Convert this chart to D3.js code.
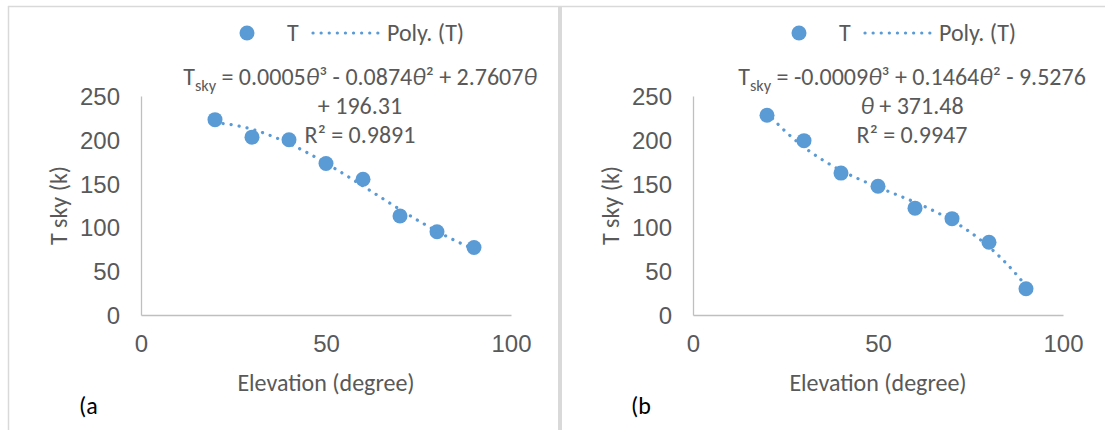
<!DOCTYPE html>
<html>
<head>
<meta charset="utf-8">
<script src="https://cdn.jsdelivr.net/npm/d3@7"></script>
<style>
  body { margin: 0; background: #fff; }
  svg { display: block; font-family: Carlito, Lato, "Open Sans", sans-serif; }
  .tick text { fill: #595959; }
</style>
</head>
<body>
<svg id="chart" width="1105" height="430"></svg>
<script>
// values
const elevation = [20, 30, 40, 50, 60, 70, 80, 90]
const tSkyA = [223, 203, 200, 173, 155, 113, 95, 77]
const tSkyB = [228, 199, 162, 147, 122, 110, 83, 30]
const xTicks = [0, 50, 100]
const yTicks = [0, 50, 100, 150, 200, 250]
const panelTags = ["(a", "(b"]
const eqLine1 = [
  [["T", ""], ["sky", "sub"], [" = 0.0005", ""], ["θ", "it"], ["³ - 0.0874", ""], ["θ", "it"], ["² + 2.7607", ""], ["θ", "it"]],
  [["T", ""], ["sky", "sub"], [" = -0.0009", ""], ["θ", "it"], ["³ + 0.1464", ""], ["θ", "it"], ["² - 9.5276", ""]]
]
const eqLine2 = [
  [["+ 196.31", ""]],
  [["θ", "it"], [" + 371.48", ""]]
]
const rSquared = ["R² = 0.9891", "R² = 0.9947"]

const BLUE = "#5b9bd5"
const GREY_TEXT = "#595959"
const FS = 24

const svg = d3.select("#chart")

// panel frames
svg.append("line").attr("x1", 8).attr("x2", 1105).attr("y1", 6.5).attr("y2", 6.5)
  .attr("stroke", "#d9d9d9").attr("stroke-width", 1.5)
svg.append("line").attr("x1", 8.5).attr("x2", 8.5).attr("y1", 6).attr("y2", 430)
  .attr("stroke", "#d9d9d9").attr("stroke-width", 1.5)
svg.append("rect").attr("x", 558).attr("y", 6).attr("width", 4).attr("height", 424)
  .attr("fill", "#d9d9d9")

// cubic least squares fit (the Excel "Poly." trendline)
function polyFit(xs, ys, order) {
  const n = order + 1
  const A = d3.range(n).map(() => new Array(n + 1).fill(0))
  xs.forEach((x, k) => {
    for (let i = 0; i < n; i++) {
      for (let j = 0; j < n; j++) A[i][j] += Math.pow(x, i + j)
      A[i][n] += Math.pow(x, i) * ys[k]
    }
  })
  for (let c = 0; c < n; c++) {
    let p = c
    for (let r = c + 1; r < n; r++) if (Math.abs(A[r][c]) > Math.abs(A[p][c])) p = r
    ;[A[c], A[p]] = [A[p], A[c]]
    for (let r = 0; r < n; r++) {
      if (r === c) continue
      const f = A[r][c] / A[c][c]
      for (let k = c; k <= n; k++) A[r][k] -= f * A[c][k]
    }
  }
  const coef = A.map((row, i) => row[n] / row[i])
  return x => coef.reduce((s, c, i) => s + c * Math.pow(x, i), 0)
}

function writeRuns(textSel, runs) {
  let shifted = false
  runs.forEach(([str, kind]) => {
    const t = textSel.append("tspan").text(str)
    if (kind === "it") t.attr("font-style", "italic")
    if (kind === "sub") {
      t.attr("font-size", FS * 0.68).attr("dy", 6)
      shifted = true
    } else if (shifted) {
      t.attr("dy", -6)
      shifted = false
    }
  })
}

function drawPanel(idx, values) {
  const left = 141 + idx * 552
  const right = left + 370
  const top = 96, bottom = 315
  const g = svg.append("g")

  const x = d3.scaleLinear().domain([0, 100]).range([left, right])
  const y = d3.scaleLinear().domain([0, 250]).range([bottom, top])

  // y axis
  const yAxis = g.append("g").attr("transform", `translate(${left},0)`)
    .call(d3.axisLeft(y).tickValues(yTicks).tickSize(0).tickPadding(21))
  yAxis.select(".domain").attr("stroke", "#bfbfbf").attr("stroke-width", 1.3)
  yAxis.selectAll("text").attr("font-size", FS).attr("font-family", null).attr("dy", "0.35em")

  // x axis
  const xAxis = g.append("g").attr("transform", `translate(0,${bottom})`)
    .call(d3.axisBottom(x).tickValues(xTicks).tickSize(0).tickPadding(20))
  xAxis.select(".domain").attr("stroke", "#bfbfbf").attr("stroke-width", 1.3)
  xAxis.selectAll("text").attr("font-size", FS).attr("font-family", null)

  // axis titles
  g.append("text")
    .attr("transform", `translate(${left - 82},${(top + bottom) / 2}) rotate(-90)`)
    .attr("text-anchor", "middle").attr("dy", "0.35em")
    .attr("font-size", FS).attr("fill", GREY_TEXT).text("T sky (k)")
  g.append("text")
    .attr("x", (left + right) / 2).attr("y", 383).attr("dy", "0.35em")
    .attr("text-anchor", "middle").attr("font-size", FS).attr("fill", GREY_TEXT)
    .text("Elevation (degree)")

  // trendline
  const fit = polyFit(elevation, values, 3)
  const lo = d3.min(elevation), hi = d3.max(elevation)
  const curve = d3.range(lo, hi + 0.01, 0.5).map(e => [e, fit(e)])
  g.append("path").datum(curve)
    .attr("fill", "none").attr("stroke", BLUE).attr("stroke-width", 3.2)
    .attr("stroke-linecap", "round").attr("stroke-dasharray", "0.1 8")
    .attr("d", d3.line().x(d => x(d[0])).y(d => y(d[1])))

  // points
  g.selectAll(".dot").data(elevation).enter().append("circle")
    .attr("class", "dot")
    .attr("cx", d => x(d))
    .attr("cy", (d, i) => y(values[i]))
    .attr("r", 7.5).attr("fill", BLUE)

  // legend
  g.append("circle").attr("cx", left + 106).attr("cy", 33).attr("r", 7.5).attr("fill", BLUE)
  g.append("text").attr("x", left + 146).attr("y", 33).attr("dy", "0.35em")
    .attr("font-size", FS).attr("fill", GREY_TEXT).text("T")
  g.append("line").attr("x1", left + 172).attr("x2", left + 237).attr("y1", 33).attr("y2", 33)
    .attr("stroke", BLUE).attr("stroke-width", 3.2)
    .attr("stroke-linecap", "round").attr("stroke-dasharray", "0.1 8")
  g.append("text").attr("x", left + 246).attr("y", 33).attr("dy", "0.35em")
    .attr("font-size", FS).attr("fill", GREY_TEXT).text("Poly. (T)")

  // trendline label
  const cx = (left + right) / 2 + 34
  const l1 = g.append("text").attr("x", cx).attr("y", 77).attr("dy", "0.35em")
    .attr("text-anchor", "middle").attr("font-size", FS).attr("fill", GREY_TEXT)
  writeRuns(l1, eqLine1[idx])
  const l2 = g.append("text").attr("x", cx).attr("y", 106).attr("dy", "0.35em")
    .attr("text-anchor", "middle").attr("font-size", FS).attr("fill", GREY_TEXT)
  writeRuns(l2, eqLine2[idx])
  g.append("text").attr("x", cx).attr("y", 135).attr("dy", "0.35em")
    .attr("text-anchor", "middle").attr("font-size", FS).attr("fill", GREY_TEXT)
    .text(rSquared[idx])

  // panel tag
  g.append("text").attr("x", left - 62).attr("y", 406).attr("dy", "0.35em")
    .attr("font-size", FS).attr("fill", "#000").text(panelTags[idx])
}

drawPanel(0, tSkyA)
drawPanel(1, tSkyB)
</script>
</body>
</html>
